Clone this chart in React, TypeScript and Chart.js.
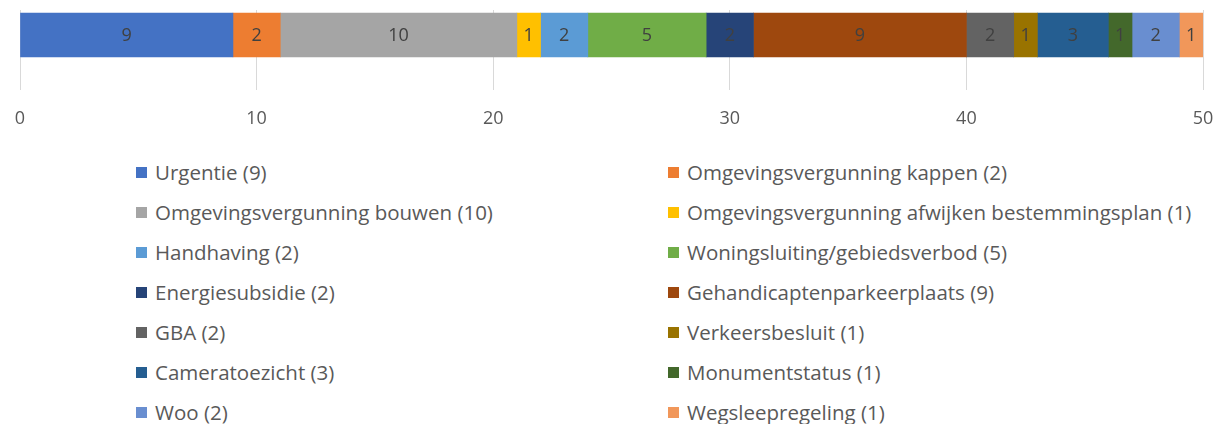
import { useEffect, useRef } from "react";
import { Chart, registerables } from "chart.js";

Chart.register(...registerables);

const categories = ["Totaal"];
const seriesNames = [
  "Urgentie",
  "Omgevingsvergunning kappen",
  "Omgevingsvergunning bouwen",
  "Omgevingsvergunning afwijken bestemmingsplan",
  "Handhaving",
  "Woningsluiting/gebiedsverbod",
  "Energiesubsidie",
  "Gehandicaptenparkeerplaats",
  "GBA",
  "Verkeersbesluit",
  "Cameratoezicht",
  "Monumentstatus",
  "Woo",
  "Wegsleepregeling",
];
const seriesValues = [9, 2, 10, 1, 2, 5, 2, 9, 2, 1, 3, 1, 2, 1];
const seriesColors = [
  "#4472C4",
  "#ED7D31",
  "#A5A5A5",
  "#FFC000",
  "#5B9BD5",
  "#70AD47",
  "#264478",
  "#9E480E",
  "#636363",
  "#997300",
  "#255E91",
  "#43682B",
  "#698ED0",
  "#F1975A",
];
const xMin = 0;
const xMax = 50;
const xStep = 10;

const FONT = "'Open Sans', 'Noto Sans', sans-serif";

const valueLabelPlugin = {
  id: "valueLabels",
  afterDatasetsDraw(chart: any) {
    const ctx = chart.ctx;
    ctx.save();
    ctx.font = `18px ${FONT}`;
    ctx.fillStyle = "#404040";
    ctx.textAlign = "center";
    ctx.textBaseline = "middle";
    chart.data.datasets.forEach((ds: any, i: number) => {
      const meta = chart.getDatasetMeta(i);
      meta.data.forEach((bar: any, j: number) => {
        const v = ds.data[j];
        const cx = (bar.x + bar.base) / 2;
        ctx.fillText(String(v), cx, bar.y + 1);
      });
    });
    ctx.restore();
  },
};

export default function App() {
  const canvasRef = useRef<HTMLCanvasElement | null>(null);

  useEffect(() => {
    if (!canvasRef.current) return;
    const chart = new Chart(canvasRef.current, {
      type: "bar",
      data: {
        labels: categories,
        datasets: seriesNames.map((name, i) => ({
          label: name,
          data: [seriesValues[i]],
          backgroundColor: seriesColors[i],
          borderWidth: 0,
          barThickness: 44,
        })),
      },
      options: {
        indexAxis: "y",
        responsive: false,
        animation: false,
        layout: { padding: { left: 20, right: 19, top: 10, bottom: 0 } },
        plugins: {
          legend: { display: false },
          tooltip: { enabled: false },
        },
        scales: {
          x: {
            stacked: true,
            min: xMin,
            max: xMax,
            afterFit(scale: any) {
              scale.paddingLeft = 0;
              scale.paddingRight = 0;
              scale.height = 80;
            },
            ticks: {
              stepSize: xStep,
              color: "#595959",
              font: { family: FONT, size: 18 },
              padding: 18,
            },
            grid: {
              color: "#D9D9D9",
              tickColor: "#D9D9D9",
              tickLength: 30,
              drawTicks: true,
            },
            border: { display: false },
          },
          y: {
            stacked: true,
            display: false,
          },
        },
      },
      plugins: [valueLabelPlugin],
    });
    return () => chart.destroy();
  }, []);

  const legendItems = seriesNames.map((name, i) => ({
    text: `${name} (${seriesValues[i]})`,
    color: seriesColors[i],
    col: i % 2,
    row: Math.floor(i / 2),
  }));

  return (
    <div
      style={{
        position: "absolute",
        left: 0,
        top: 0,
        width: 1222,
        height: 424,
        background: "#fff",
        overflow: "hidden",
      }}
    >
      <canvas ref={canvasRef} width={1222} height={140} style={{ display: "block" }} />
      {legendItems.map((it, i) => (
        <div
          key={i}
          style={{
            position: "absolute",
            left: it.col === 0 ? 136 : 668,
            top: 172 + it.row * 40 - 14,
            height: 28,
            display: "flex",
            alignItems: "center",
            fontFamily: FONT,
            fontSize: 20.5,
            color: "#595959",
            whiteSpace: "nowrap",
          }}
        >
          <span
            style={{
              display: "inline-block",
              width: 11,
              height: 11,
              background: it.color,
              marginRight: 8,
            }}
          />
          <span>{it.text}</span>
        </div>
      ))}
    </div>
  );
}
